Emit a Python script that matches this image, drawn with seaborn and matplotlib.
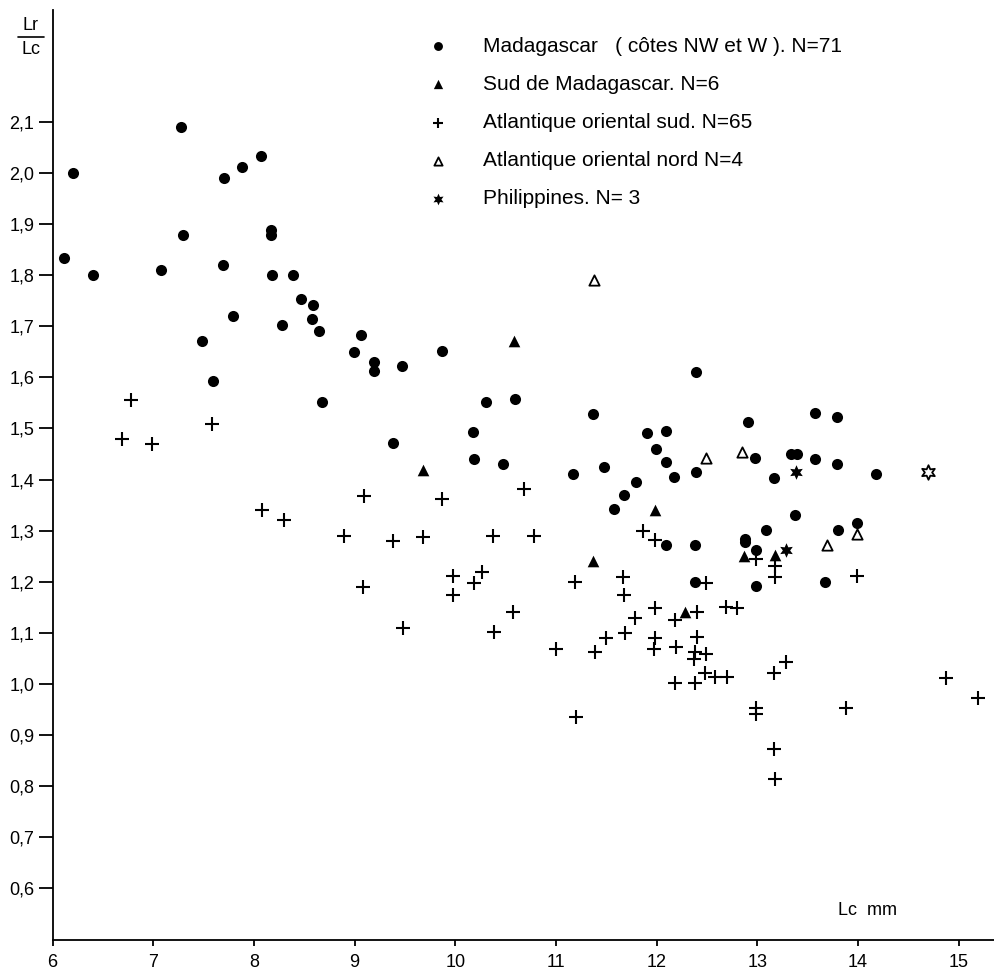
import pandas as pd
import matplotlib.pyplot as plt
import seaborn as sns
from matplotlib.lines import Line2D

# Madagascar (cotes NW et W)
mad_lc = [6.11, 6.20, 6.40, 7.08, 7.28, 7.30, 7.70, 7.69, 7.88, 8.07,
          7.79, 8.17, 8.17, 8.18, 8.39, 8.47, 8.59, 8.58, 8.28, 8.65,
          7.48, 7.59, 9.06, 8.99, 9.19, 9.19, 9.47, 8.68, 9.38, 9.87,
          10.30, 10.59, 11.37, 12.39, 10.18, 10.19, 10.47, 11.17, 11.48, 11.90,
          12.09, 11.99, 12.09, 12.17, 12.39, 11.79, 11.68, 11.58, 12.09, 12.38,
          12.38, 12.99, 13.67, 12.99, 12.88, 12.88, 12.91, 13.57, 13.79, 12.98,
          13.17, 13.33, 13.39, 13.57, 13.79, 14.18, 13.37, 13.09, 13.80, 13.99]
mad_ratio = [1.834, 2.000, 1.800, 1.810, 2.089, 1.879, 1.990, 1.820, 2.011, 2.033,
             1.720, 1.888, 1.879, 1.800, 1.800, 1.753, 1.742, 1.714, 1.703, 1.691,
             1.671, 1.592, 1.682, 1.650, 1.630, 1.613, 1.622, 1.552, 1.471, 1.652,
             1.552, 1.558, 1.529, 1.611, 1.493, 1.440, 1.431, 1.411, 1.425, 1.491,
             1.494, 1.459, 1.434, 1.405, 1.414, 1.395, 1.370, 1.342, 1.271, 1.271,
             1.200, 1.192, 1.200, 1.263, 1.284, 1.277, 1.513, 1.530, 1.523, 1.442,
             1.402, 1.450, 1.450, 1.440, 1.431, 1.411, 1.331, 1.301, 1.301, 1.314]

# Sud de Madagascar
sud_lc = [10.58, 9.68, 11.98, 11.37, 12.28, 12.87, 13.18]
sud_ratio = [1.671, 1.419, 1.341, 1.241, 1.140, 1.251, 1.252]

# Atlantique oriental sud
ats_lc = [6.78, 6.69, 6.99, 7.58, 8.08, 8.30, 8.89, 9.09, 9.38, 9.08,
          9.48, 9.87, 10.68, 9.68, 10.37, 10.78, 9.98, 9.98, 10.19, 10.27,
          11.86, 11.98, 11.19, 11.67, 11.68, 12.49, 11.78, 11.98, 12.18, 12.40,
          12.69, 12.80, 11.00, 11.39, 11.50, 11.69, 11.98, 11.97, 12.19, 12.40,
          12.38, 12.49, 12.37, 12.48, 12.58, 12.70, 12.18, 12.38, 11.20, 12.99,
          12.99, 10.38, 10.57, 13.17, 13.28, 13.17, 13.18, 13.88, 14.87, 15.19,
          12.99, 13.18, 13.18, 13.99]
ats_ratio = [1.556, 1.479, 1.470, 1.508, 1.341, 1.320, 1.289, 1.368, 1.280, 1.190,
             1.109, 1.361, 1.381, 1.288, 1.289, 1.289, 1.211, 1.174, 1.198, 1.220,
             1.300, 1.281, 1.199, 1.209, 1.174, 1.198, 1.130, 1.148, 1.126, 1.141,
             1.151, 1.149, 1.068, 1.062, 1.089, 1.100, 1.089, 1.068, 1.072, 1.091,
             1.062, 1.059, 1.049, 1.021, 1.013, 1.013, 1.001, 1.001, 0.936, 0.952,
             0.941, 1.102, 1.140, 1.021, 1.042, 0.873, 0.815, 0.952, 1.012, 0.973,
             1.245, 1.230, 1.210, 1.211]

# Atlantique oriental nord
atn_lc = [11.38, 12.49, 12.85, 13.69, 13.99]
atn_ratio = [1.790, 1.442, 1.453, 1.271, 1.294]

# Philippines (last one drawn open)
phi_lc = [13.38, 13.28, 14.69]
phi_ratio = [1.414, 1.263, 1.414]
phi_open = [False, False, True]

labels = ['Madagascar   ( côtes NW et W ). N=71',
          'Sud de Madagascar. N=6',
          'Atlantique oriental sud. N=65',
          'Atlantique oriental nord N=4',
          'Philippines. N= 3']

xticks = [6, 7, 8, 9, 10, 11, 12, 13, 14, 15]
yticks = [0.6, 0.7, 0.8, 0.9, 1.0, 1.1, 1.2, 1.3, 1.4, 1.5, 1.6, 1.7, 1.8, 1.9, 2.0, 2.1]
ytick_labels = ['0,6', '0,7', '0,8', '0,9', '1,0', '1,1', '1,2', '1,3', '1,4',
                '1,5', '1,6', '1,7', '1,8', '1,9', '2,0', '2,1']

sns.set_theme(style='ticks')
plt.rcParams['font.family'] = ['Liberation Sans', 'DejaVu Sans']

fig = plt.figure(figsize=(9.95, 9.69), dpi=100)
ax = fig.add_axes([0.0528, 0.0299, 0.9472, 0.96])

star6 = (6, 1, 0)

sns.scatterplot(x=mad_lc, y=mad_ratio, marker='o', s=64, color='black',
                linewidth=0, ax=ax, label=labels[0])
sns.scatterplot(x=sud_lc, y=sud_ratio, marker='^', s=70, color='black',
                linewidth=0, ax=ax, label=labels[1])
sns.scatterplot(x=ats_lc, y=ats_ratio, marker='+', s=90, color='black',
                linewidth=1.5, ax=ax, label=labels[2])
sns.scatterplot(x=atn_lc, y=atn_ratio, marker='^', s=55, facecolor='white',
                edgecolor='black', linewidth=1.3, ax=ax, label=labels[3])

phi = pd.DataFrame({'lc': phi_lc, 'ratio': phi_ratio, 'open': phi_open})
closed = phi[~phi['open']]
opened = phi[phi['open']]
sns.scatterplot(data=closed, x='lc', y='ratio', marker=star6, s=110, color='black',
                linewidth=0, ax=ax, label=labels[4])
sns.scatterplot(data=opened, x='lc', y='ratio', marker=star6, s=110, facecolor='white',
                edgecolor='black', linewidth=1.3, ax=ax, legend=False)

ax.set_xlim(6, 15.36)
ax.set_ylim(0.499, 2.319)
ax.set_xticks(xticks)
ax.set_yticks(yticks)
ax.set_yticklabels(ytick_labels)
ax.set_xlabel('')
ax.set_ylabel('')
for side in ['top', 'right']:
    ax.spines[side].set_visible(False)
for side in ['left', 'bottom']:
    ax.spines[side].set_linewidth(1.3)
    ax.spines[side].set_color('black')
ax.tick_params(axis='y', length=10, width=1.3, labelsize=13, pad=3,
               colors='black', labelcolor='black')
ax.tick_params(axis='x', length=4, width=1.3, labelsize=13, pad=6,
               colors='black', labelcolor='black')

ax.text(14.09, 0.556, 'Lc  mm', fontsize=13, ha='center', va='center', color='black')

# Lr / Lc fraction at top of y axis
fig.text(31 / 995, 1 - 25 / 969, 'Lr', fontsize=13, ha='center', va='center', color='black')
fig.text(31 / 995, 1 - 50 / 969, 'Lc', fontsize=13, ha='center', va='center', color='black')
fig.add_artist(Line2D([18 / 995, 44 / 995], [1 - 37 / 969, 1 - 37 / 969],
                      color='black', linewidth=1.2, transform=fig.transFigure))

ax.legend(loc='upper left', bbox_to_anchor=(0.3958, 0.971), frameon=False,
          fontsize=15, handlelength=1.2, handletextpad=1.56, labelspacing=0.92,
          borderpad=0, borderaxespad=0, markerscale=0.8, labelcolor='black')

fig.savefig('out.png', dpi=100)
